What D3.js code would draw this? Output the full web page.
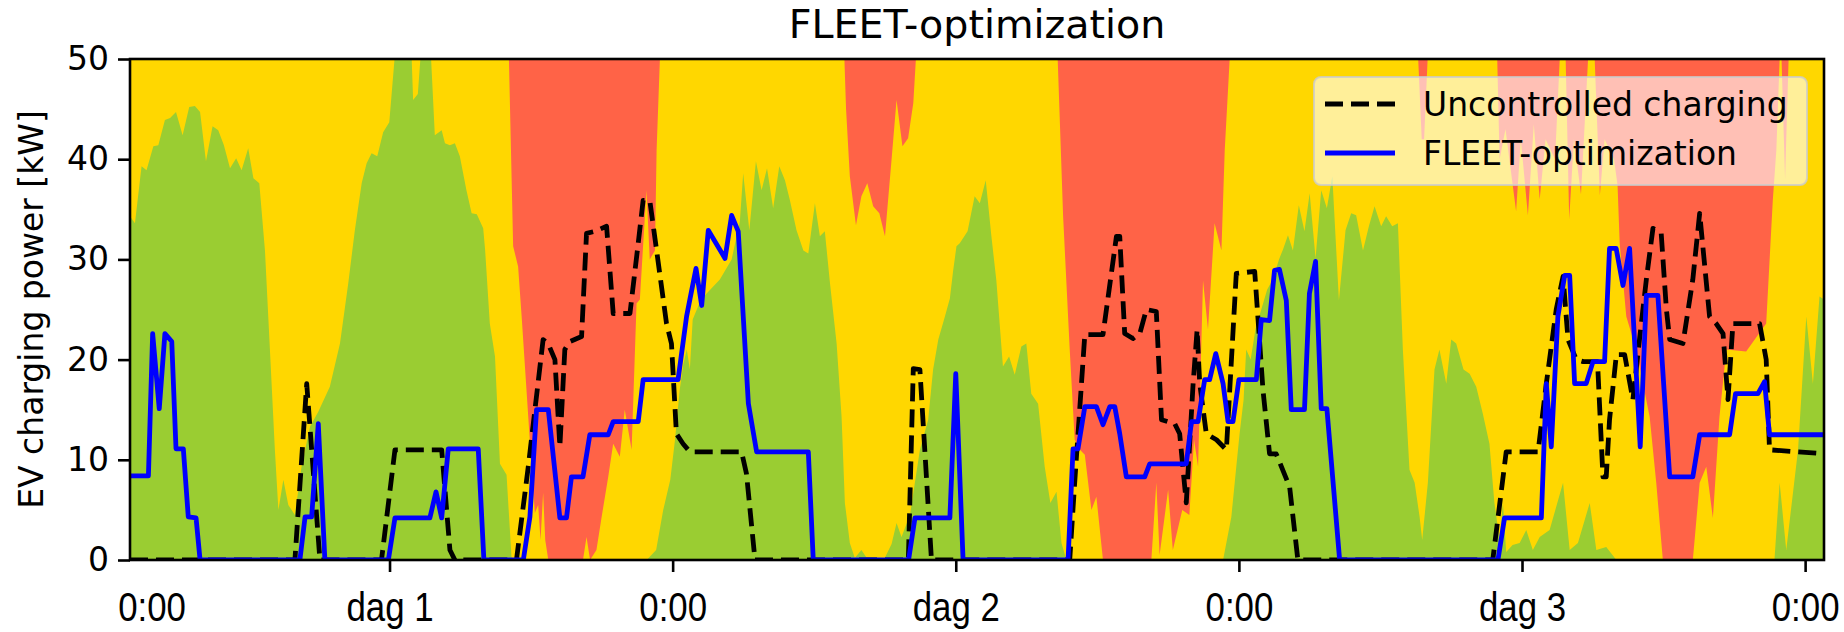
<!DOCTYPE html>
<html lang="en">
<head>
<meta charset="UTF-8">
<title>FLEET-optimization</title>
<script src="https://cdn.jsdelivr.net/npm/d3@7"></script>
<style>
  body { margin: 0; background: #fff; }
  svg { display: block; }
</style>
</head>
<body>
<svg width="1844" height="632"></svg>
<script>
// time in hours (since first midnight), power in kW
var uncontrolled = [[1.0,0],[7.99,0],[8.49,17.6],[9.05,0],[11.66,0],[12.23,11.0],[14.21,11.0],[14.56,1.0],[14.77,0],
  [17.38,0],[17.88,9.3],[18.51,22.0],[18.72,21.6],[19.01,20],[19.22,11.3],[19.43,21.0],[19.64,21.8],[20.14,22.3],
  [20.35,32.6],[20.7,32.8],[21.2,33.3],[21.48,24.6],[22.19,24.6],[22.54,31.6],[22.75,35.9],[23.03,35.9],[23.32,30.9],
  [23.74,23.6],[23.95,21.6],[24.16,12.6],[24.44,11.6],[24.73,10.8],[26.92,10.8],[27.13,8.6],[27.49,0],[33.99,0],
  [34.2,19.1],[34.48,19.0],[34.97,0],[40.83,0],[41.04,7.7],[41.47,22.5],[42.24,22.5],[42.81,32.3],[42.95,32.3],
  [43.16,22.6],[43.51,22.1],[43.8,22.6],[44.08,25.0],[44.5,24.8],[44.72,14.0],[45.28,13.6],[45.49,12.6],[45.77,5.7],
  [46.06,17.6],[46.23,23.0],[46.34,17.6],[46.62,12.6],[47.05,12.0],[47.47,11.0],[47.89,28.6],[48.67,28.8],[49.02,17],
  [49.3,10.6],[49.58,10.6],[50.15,7.3],[50.5,0],[58.76,0],[59.33,10.8],[60.68,10.8],[61.03,17.6],[61.45,25],
  [61.74,28.3],[61.95,22],[62.3,20],[62.6,19.8],[63.2,19.8],[63.43,8.3],[63.57,8.3],[63.71,14],[64.0,20.5],
  [64.35,20.5],[64.7,16.0],[64.98,22],[65.27,28],[65.55,33.1],[65.9,32.6],[66.12,25],[66.26,22.0],[66.82,21.6],
  [67.24,28],[67.53,34.6],[67.95,24.3],[68.23,23.6],[68.52,22.6],[68.73,16.0],[68.94,23.6],[70.07,23.6],[70.35,20],
  [70.49,11.0],[72.8,10.6]];

var fleet = [[1.0,8.4],[1.78,8.4],[1.96,22.6],[2.24,15.1],[2.48,22.6],[2.77,21.8],[2.95,11.1],[3.26,11.1],[3.47,4.3],
  [3.8,4.2],[3.97,0],[8.2,0],[8.42,4.3],[8.7,4.3],[8.98,13.6],[9.26,0],[11.95,0],[12.23,4.2],[13.71,4.2],[13.97,6.8],
  [14.21,4.2],[14.49,11.1],[15.76,11.1],[16.0,0],[17.67,0],[17.95,4.3],[18.23,15.0],[18.73,15.0],[19.22,4.2],
  [19.5,4.2],[19.71,8.3],[20.2,8.3],[20.49,12.5],[21.27,12.5],[21.48,13.8],[22.54,13.8],[22.75,18.0],[24.23,18.0],
  [24.59,24.3],[24.73,26],[24.99,29.1],[25.23,25.4],[25.51,32.9],[26.22,30.1],[26.5,34.4],[26.78,32.8],[27.21,15.6],
  [27.56,10.8],[29.75,10.8],[29.96,0],[34.0,0],[34.27,4.2],[35.75,4.2],[36.0,18.6],[36.31,0],[40.76,0],[40.97,11.1],
  [41.18,11.1],[41.47,15.3],[41.96,15.3],[42.24,13.5],[42.53,15.3],[42.74,15.3],[42.95,12.6],[43.23,8.3],[44.01,8.3],
  [44.22,9.6],[45.77,9.6],[45.99,13.8],[46.27,13.8],[46.55,18.0],[46.76,18.0],[47.02,20.6],[47.33,17.6],[47.54,13.8],
  [47.75,13.8],[48.0,18.0],[48.74,18.0],[48.95,24.0],[49.3,23.9],[49.51,28.9],[49.72,29.0],[50.01,25.9],[50.22,15.0],
  [50.78,15.0],[50.99,26.6],[51.25,29.8],[51.49,15.1],[51.73,15.1],[52.27,0],[58.98,0],[59.26,4.2],[60.82,4.2],
  [61.03,17.6],[61.24,11.3],[61.52,24.3],[61.81,28.4],[62.02,28.4],[62.23,17.6],[62.72,17.6],[63.01,19.8],[63.5,19.8],
  [63.71,31.1],[63.99,31.1],[64.28,27.4],[64.56,31.1],[65.01,11.3],[65.27,26.4],[65.76,26.4],[66.26,8.3],[67.24,8.3],
  [67.53,12.5],[68.8,12.5],[69.05,16.6],[70.0,16.6],[70.28,17.8],[70.49,12.5],[72.8,12.5]];

// upper edge of the green band
var greenTop = [[1.0,34.3],[1.21,33.6],[1.49,39.3],[1.7,38.9],[1.99,41.3],[2.2,41.4],[2.48,43.9],[2.7,44.1],[2.95,44.7],
  [3.23,42.4],[3.51,45.2],[3.75,45.3],[3.97,44.7],[4.22,39.8],[4.5,43.3],[4.74,42.9],[4.98,41.4],[5.24,39.1],[5.5,40.1],
  [5.73,38.9],[6.01,41.1],[6.23,38.1],[6.48,37.6],[6.72,30.9],[6.93,21.0],[7.14,11.0],[7.29,5.0],[7.5,8.0],[7.71,5.5],
  [7.99,4.5],[8.27,9.3],[8.63,13.3],[8.98,14.8],[9.47,17.3],[9.9,21.6],[10.25,27.6],[10.53,32.9],[10.82,37.6],
  [11.03,39.6],[11.24,40.6],[11.48,40.3],[11.73,42.7],[11.99,43.7],[12.23,50.5],[12.4,56],[12.85,56],[13.0,45.9],
  [13.2,46.5],[13.4,53],[13.7,53],[13.92,42.4],[14.21,42.9],[14.35,41.6],[14.56,41.4],[14.77,41.6],[14.98,40.3],
  [15.26,36.9],[15.48,34.6],[15.7,34.5],[15.97,33.1],[16.05,31],[16.25,23.6],[16.47,20.3],[16.68,9.6],[16.96,8.5],
  [17.17,0.3],[17.31,0],[22.9,0],[23.1,0.5],[23.3,1.0],[23.6,5],[23.9,8],[24.1,12],[24.3,17],[24.45,19.5],[24.6,21],
  [24.73,19],[24.85,24],[25.2,26],[25.6,27],[26.0,28],[26.5,30],[26.85,33.8],[26.99,38.6],[27.25,32.9],[27.53,39.8],
  [27.77,36.9],[28.0,39.1],[28.26,35.1],[28.52,39.3],[28.76,37.9],[28.97,35.9],[29.25,32.9],[29.54,30.9],[29.75,30.6],
  [30.03,35.6],[30.24,32.3],[30.45,32.8],[30.67,27.6],[30.95,21.6],[31.16,14.3],[31.3,5.7],[31.51,1.7],[31.72,0.2],
  [32.0,1.0],[32.2,0.3],[32.99,0.2],[33.28,1.6],[33.49,3.7],[33.7,2.3],[34.06,4.5],[34.48,11.0],[34.83,14],
  [35.04,19.0],[35.26,22.0],[35.54,24.3],[35.75,26.1],[35.89,28.9],[36.03,31.3],[36.17,31.6],[36.5,32.8],[36.8,36.3],
  [37.02,35.6],[37.27,37.9],[37.51,32.3],[37.72,27.9],[38.0,19.3],[38.26,20.3],[38.5,18.5],[38.78,21.3],[38.99,21.6],
  [39.2,16.6],[39.49,15.6],[39.77,9.3],[40.01,5.7],[40.27,6.8],[40.48,1.7],[40.69,0],[47.33,0],[47.68,4.3],
  [47.89,9.3],[48.03,12.6],[48.2,16],[48.31,21],[48.5,20],[48.7,23],[48.95,25],[49.2,27],[49.44,28],[49.7,30],
  [49.87,31],[50.08,32.4],[50.29,30.9],[50.54,35.4],[50.78,32.8],[51.0,36.6],[51.25,30.1],[51.49,36.9],[51.73,35.1],
  [51.96,38.3],[52.24,25.9],[52.52,32.9],[52.76,34.6],[52.97,34.4],[53.26,30.9],[53.51,33.3],[53.75,35.3],[54.03,33.3],
  [54.24,34.3],[54.5,33.3],[54.74,33.6],[54.95,21.0],[55.23,9.0],[55.45,7.7],[55.66,4.3],[55.77,2.0],[56.01,7.7],
  [56.29,19.0],[56.5,21.0],[56.79,17.6],[57.0,22.0],[57.21,21.6],[57.52,19.0],[57.78,18.6],[58.06,17.3],[58.34,14.6],
  [58.62,11.6],[58.83,5.7],[59.05,2.0],[59.19,5.7],[59.33,0.8],[59.6,1.5],[59.9,1.7],[60.18,3],[60.46,1],[60.75,2.3],
  [61.17,3],[61.74,7.7],[62.02,1],[62.37,1.7],[62.87,5.7],[63.15,1],[63.57,1.3],[64.0,0],[70.7,0],[70.92,7.7],
  [71.2,1],[71.7,11],[72.05,24.3],[72.33,17.6],[72.61,26.3],[72.8,26]];

// lower edge of the red band (50 = no red)
var redBottom = [[1,50],[17.06,50],[17.24,31.3],[17.45,29.3],[17.6,24.3],[17.74,19.3],[17.88,14.3],[18.02,9.3],
  [18.16,4.7],[18.3,5.5],[18.4,2],[18.51,6.7],[18.6,2],[18.73,0],[20.2,0],[20.35,2.3],[20.5,0],[20.77,1.0],[20.99,4.3],
  [21.27,8.3],[21.48,11.6],[21.76,10.3],[21.97,15.0],[22.26,11.0],[22.47,25.6],[22.61,26.0],[22.89,36.9],[23.03,30],
  [23.25,30.9],[23.32,40.9],[23.46,50],[31.28,50],[31.35,45],[31.51,38.3],[31.77,33.4],[32.0,36.3],[32.25,37.6],
  [32.5,35.3],[32.76,34.6],[33.0,32.3],[33.28,40],[33.49,45.9],[33.74,41.3],[33.98,42.1],[34.2,45.6],[34.31,50],
  [40.32,50],[40.55,34.3],[40.83,21],[41.04,12],[41.26,11],[41.47,10.5],[41.75,5.0],[41.96,6.3],[42.24,0],[44.29,0],
  [44.5,7.7],[44.64,0.5],[45.0,7.0],[45.2,1],[45.6,5],[45.9,4.5],[46.1,12],[46.27,9.3],[46.48,27.9],[46.69,23],
  [46.97,33.6],[47.26,30.9],[47.4,40.9],[47.61,50],[55.6,50],[55.75,42],[55.85,42],[56.0,50],[58.95,50],[59.05,40],
  [59.3,43],[59.75,34.8],[59.95,42],[60.25,34.4],[60.5,43.5],[60.75,36],[61.0,42],[61.4,40],[61.6,50],[61.85,50],
  [62.0,34],[62.2,42],[62.5,36.5],[62.8,50],[63.08,50],[63.3,36.4],[63.5,42],[63.9,40],[64.05,37.4],[64.14,31.6],
  [64.42,24.3],[64.84,21.0],[65.41,14.3],[65.69,7.7],[65.97,0],[67.24,0],[67.53,7.7],[67.81,9.3],[68.09,4.2],
  [68.37,14.3],[68.66,21.0],[69.5,20.8],[70.35,23.6],[70.63,35.9],[70.78,40.9],[70.92,50],[71.0,50],[71.15,38],
  [71.3,50],[72.8,50]];

var tickHours = [12, 24, 36, 48, 60, 72];
var tickLabels = ["dag 1", "0:00", "dag 2", "0:00", "dag 3", "0:00"];
var firstLabel = "0:00";
var yTicks = [0, 10, 20, 30, 40, 50];
var seriesNames = ["Uncontrolled charging", "FLEET-optimization"];

var m = {left: 130, right: 1824, top: 59, bottom: 560};
var svg = d3.select("svg");

var x = d3.scaleLinear().domain([1, 72.8]).range([m.left, m.right]);
var y = d3.scaleLinear().domain([0, 50]).range([m.bottom, m.top]);

svg.append("defs").append("clipPath").attr("id", "plotclip")
  .append("rect").attr("x", m.left).attr("y", m.top)
  .attr("width", m.right - m.left).attr("height", m.bottom - m.top);

var plot = svg.append("g").attr("clip-path", "url(#plotclip)");

plot.append("rect")
  .attr("x", m.left).attr("y", m.top)
  .attr("width", m.right - m.left).attr("height", m.bottom - m.top)
  .attr("fill", "#FFD700");

plot.append("path")
  .datum(redBottom)
  .attr("fill", "#FF6347")
  .attr("d", d3.area().x(d => x(d[0])).y0(y(50)).y1(d => y(d[1])));

plot.append("path")
  .datum(greenTop)
  .attr("fill", "#9ACD32")
  .attr("d", d3.area().x(d => x(d[0])).y0(y(0)).y1(d => y(d[1])));

var line = d3.line().x(d => x(d[0])).y(d => y(d[1]));

plot.append("path")
  .datum(uncontrolled)
  .attr("fill", "none")
  .attr("stroke", "black")
  .attr("stroke-width", 4.8)
  .attr("stroke-dasharray", "18,8")
  .attr("stroke-linejoin", "round")
  .attr("d", line);

plot.append("path")
  .datum(fleet)
  .attr("fill", "none")
  .attr("stroke", "#0000FF")
  .attr("stroke-width", 4.8)
  .attr("stroke-linejoin", "round")
  .attr("d", line);

// axes
var yAxis = svg.append("g")
  .attr("transform", "translate(" + m.left + ",0)")
  .call(d3.axisLeft(y).tickValues(yTicks).tickSize(12).tickPadding(9));
yAxis.select(".domain").remove();
yAxis.selectAll("line").attr("stroke-width", 2.6);
yAxis.selectAll("text")
  .style("font-family", "'DejaVu Sans', sans-serif")
  .style("font-size", "33px")
  .attr("fill", "black");

// the x labels use a condensed face; squeeze a regular sans to match
var narrow = "'Liberation Sans Narrow', 'Arial Narrow', 'Liberation Sans', sans-serif";
function squeeze(sel) {
  sel.each(function() {
    var w = this.getComputedTextLength();
    d3.select(this).attr("textLength", w * 0.87).attr("lengthAdjust", "spacingAndGlyphs");
  });
}

var xAxis = svg.append("g")
  .attr("transform", "translate(0," + m.bottom + ")")
  .call(d3.axisBottom(x).tickValues(tickHours).tickFormat((d, i) => tickLabels[i]).tickSize(12));
xAxis.select(".domain").remove();
xAxis.selectAll("line").attr("stroke-width", 2.6);
xAxis.selectAll("text")
  .attr("y", 61).attr("dy", null)
  .style("font-family", narrow)
  .style("font-size", "40px")
  .attr("fill", "black")
  .call(squeeze);

svg.append("text")
  .attr("x", x(1) + 22).attr("y", m.bottom + 61)
  .attr("text-anchor", "middle")
  .style("font-family", narrow)
  .style("font-size", "40px")
  .text(firstLabel)
  .call(squeeze);

// frame
svg.append("rect")
  .attr("x", m.left).attr("y", m.top)
  .attr("width", m.right - m.left).attr("height", m.bottom - m.top)
  .attr("fill", "none").attr("stroke", "black").attr("stroke-width", 2.6);

// title and y label
svg.append("text")
  .attr("x", (m.left + m.right) / 2).attr("y", 38)
  .attr("text-anchor", "middle")
  .style("font-family", "'DejaVu Sans', sans-serif")
  .style("font-size", "39.6px")
  .text("FLEET-optimization");

svg.append("text")
  .attr("transform", "translate(43," + (m.top + m.bottom) / 2 + ") rotate(-90)")
  .attr("text-anchor", "middle")
  .style("font-family", "'DejaVu Sans', sans-serif")
  .style("font-size", "33px")
  .text("EV charging power [kW]");

// legend
var legend = svg.append("g");
legend.append("rect")
  .attr("x", 1314).attr("y", 77).attr("width", 493).attr("height", 108)
  .attr("rx", 7)
  .attr("fill", "white").attr("fill-opacity", 0.6)
  .attr("stroke", "#cccccc").attr("stroke-opacity", 0.8).attr("stroke-width", 2);

var styles = [{stroke: "black", dash: "18,8"}, {stroke: "#0000FF", dash: null}];
seriesNames.forEach(function(name, i) {
  var ly = 104 + i * 49;
  legend.append("line")
    .attr("x1", 1325).attr("x2", 1395).attr("y1", ly).attr("y2", ly)
    .attr("stroke", styles[i].stroke).attr("stroke-width", 4.8)
    .attr("stroke-dasharray", styles[i].dash);
  legend.append("text")
    .attr("x", 1423).attr("y", ly + 12)
    .style("font-family", "'DejaVu Sans', sans-serif")
    .style("font-size", "33px")
    .text(name);
});
</script>
</body>
</html>
